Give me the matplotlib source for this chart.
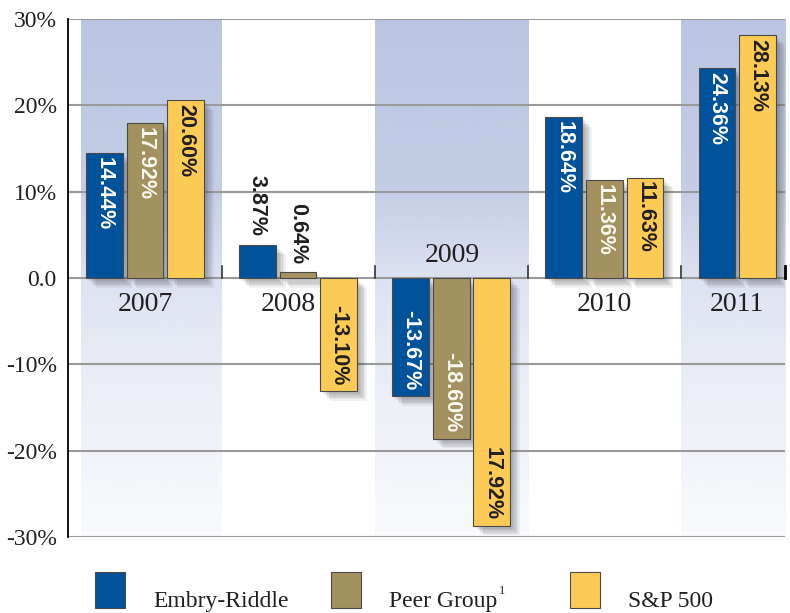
import numpy as np
import matplotlib.pyplot as plt
import matplotlib.patheffects as pe
from matplotlib.patches import Rectangle

# Annual returns
years = ["2007", "2008", "2009", "2010", "2011"]
embry = [14.44, 3.87, -13.67, 18.64, 24.36]
peer = [17.92, 0.64, -18.60, 11.36, np.nan]
sp500 = [20.60, -13.10, -28.70, 11.63, 28.13]

# Printed labels (as shown in the source, incl. its 2009 S&P label)
embry_lbl = ["14.44%", "3.87%", "-13.67%", "18.64%", "24.36%"]
peer_lbl = ["17.92%", "0.64%", "-18.60%", "11.36%", ""]
sp_lbl = ["20.60%", "-13.10%", "17.92%", "11.63%", "28.13%"]

yticks = [-30, -20, -10, 0, 10, 20, 30]
ytick_lbl = ["-30%", "-20%", "-10%", "0.0", "10%", "20%", "30%"]

c_er, c_peer, c_sp = "#00529b", "#a39160", "#fccb56"
serif = "Liberation Serif"
dark = "#231f20"

fig = plt.figure(figsize=(7.9, 6.13), dpi=100)
ax = fig.add_axes([0.086, 0.124, 0.9077, 0.845])
ax.set_xlim(-0.503, 4.18)
ax.set_ylim(-30, 30)

# shaded column bands, fading to white toward the bottom
ys = np.linspace(30, -30, 300)
band_rgba = np.zeros((300, 1, 4))
band_rgba[..., :3] = np.array([0xbb, 0xc5, 0xe2]) / 255
band_rgba[:, 0, 3] = np.interp(-ys, [-30, -10, 0, 10, 20, 30],
                               [1.0, 0.85, 0.5, 0.32, 0.2, 0.08])
for x0, x1 in [(-0.42, 0.5), (1.5, 2.5), (3.5, 4.18)]:
    ax.imshow(band_rgba, extent=[x0, x1, -30, 30], aspect="auto",
              zorder=0, interpolation="bilinear")

# grid lines
for y in yticks:
    ax.axhline(y, color="#9a9a9a", lw=1.5, zorder=1)

# small separators on the zero line
for xb in [0.5, 1.5, 2.5, 3.5]:
    ax.plot([xb, xb], [0, 1.4], color="#333333", lw=1.2, zorder=2)
ax.plot([4.177, 4.177], [0, 1.4], color="black", lw=2, zorder=2, clip_on=False)

step, width = 0.265, 0.24
# soft drop shadow built from a few offset layers
shadow = [pe.SimplePatchShadow(offset=(d, -d), shadow_rgbFace="#3a3a3a", alpha=0.07)
          for d in (2, 3, 4, 5, 6, 7)] + [pe.Normal()]
x = np.arange(len(years))

def draw(series, labels, offsets, color, txtcolor):
    for i, (v, lab) in enumerate(zip(series, labels)):
        if np.isnan(v):
            continue
        xc = x[i] + offsets[i]
        ax.bar(xc, v, width, color=color, edgecolor="#4a4a4a", lw=0.8,
               zorder=3, path_effects=shadow)
        kw = dict(rotation=270, ha="center", fontsize=15.5, fontweight="bold",
                  family="Liberation Sans", zorder=4)
        if v > 8:
            ax.text(xc, v - 0.45, lab, va="top", color=txtcolor, **kw)
        elif v >= 0:
            ax.text(xc, v + 1.0, lab, va="bottom", color=dark, **kw)
        else:
            ax.text(xc, v + 0.7, lab, va="bottom", color=txtcolor, **kw)

draw(embry, embry_lbl, [-step] * 5, c_er, "white")
draw(peer, peer_lbl, [0] * 5, c_peer, "#fbf8ee")
draw(sp500, sp_lbl, [step] * 4 + [0], c_sp, dark)

# year labels
year_pos = [x[0], x[1] - 0.065, x[2] + 0.01, x[3], x[4] - step / 2]
year_y = [-3.1, -3.1, 2.6, -3.1, -3.1]
for xp, yp, yr in zip(year_pos, year_y, years):
    ax.text(xp, yp, yr, ha="center", va="center", fontsize=20,
            family=serif, color=dark, zorder=5)

ax.set_xticks([])
ax.set_yticks(yticks)
ax.set_yticklabels(ytick_lbl, family=serif, fontsize=17, color=dark)
ax.tick_params(axis="y", length=0, pad=8)
for s in ["top", "right", "bottom"]:
    ax.spines[s].set_visible(False)
ax.spines["left"].set_color("black")
ax.spines["left"].set_linewidth(1.3)
ax.spines["left"].set_zorder(6)

# legend drawn in figure coordinates
legend_items = [("Embry-Riddle", c_er, 95), ("Peer Group", c_peer, 331), ("S&P 500", c_sp, 570)]
W, H = 790, 613
for name, col, px in legend_items:
    fig.patches.append(Rectangle((px / W, 1 - 608 / H), 30 / W, 36 / H,
                                 transform=fig.transFigure, facecolor=col,
                                 edgecolor="#4a4a4a", lw=0.8))
    fig.text((px + 58) / W, 1 - 607 / H, name, family=serif, fontsize=17,
             color=dark, va="baseline")
fig.text(499 / W, 1 - 594 / H, "1", family=serif, fontsize=9,
         color=dark, va="baseline")

fig.savefig("out.png", dpi=100)
